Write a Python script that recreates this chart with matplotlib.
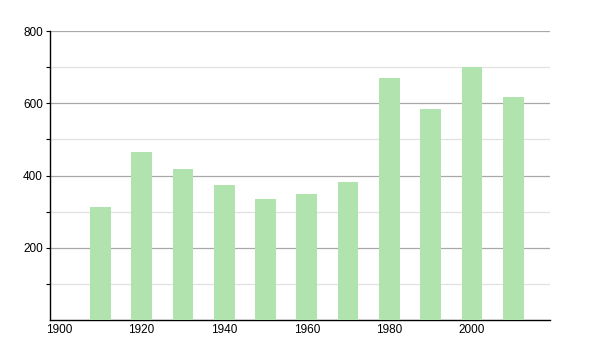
import matplotlib
matplotlib.use('Agg')
import matplotlib.pyplot as plt

plt.rcParams['font.family'] = ['Liberation Sans', 'DejaVu Sans']

# population per census decade
years = [1910, 1920, 1930, 1940, 1950, 1960, 1970, 1980, 1990, 2000, 2010]
population = [312, 466, 418, 374, 334, 349, 382, 669, 584, 699, 616]

xticks = [1900, 1920, 1940, 1960, 1980, 2000]
yticks = [200, 400, 600, 800]
yminor = [100, 300, 500, 700]

fig = plt.figure(figsize=(6, 3.5), dpi=100)
ax = fig.add_axes([0.0833, 0.0857, 0.8334, 0.8257])

ax.bar(years, population, width=5.0, color='#b0e3ae', zorder=3)

ax.set_xlim(1897.8, 2018.9)
ax.set_ylim(0, 800)
ax.set_xticks(xticks)
ax.set_xticklabels([str(x) for x in xticks])
ax.set_yticks(yticks)
ax.set_yticks(yminor, minor=True)

ax.grid(axis='y', which='major', color='#a8a8a8', linewidth=0.9, zorder=0)
ax.grid(axis='y', which='minor', color='#e2e2e2', linewidth=0.9, zorder=0)

for s in ['top', 'right']:
    ax.spines[s].set_visible(False)
ax.spines['left'].set_linewidth(1.0)
ax.spines['bottom'].set_linewidth(1.0)

ax.tick_params(axis='y', which='both', length=3, width=0.8, labelsize=8.5, pad=2)
ax.tick_params(axis='x', length=0, labelsize=8.5, pad=3)

fig.savefig('out.png', dpi=100)
